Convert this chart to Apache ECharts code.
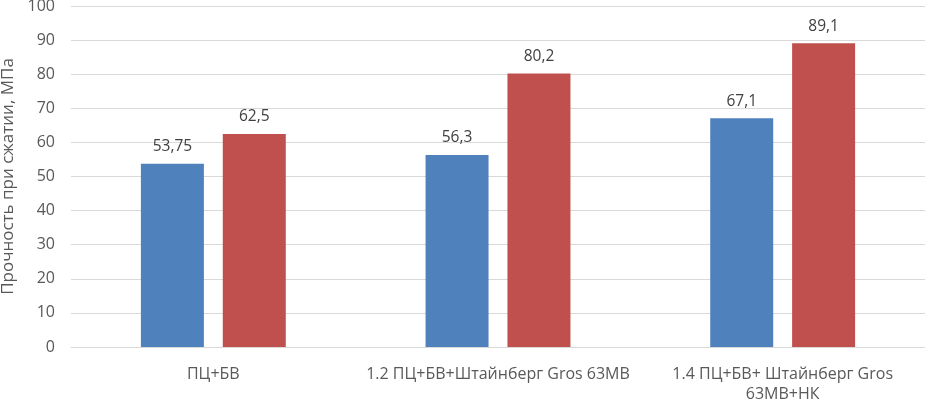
<!DOCTYPE html>
<html><head><meta charset="utf-8">
<script src="https://cdn.jsdelivr.net/npm/echarts@6/dist/echarts.min.js"></script>
<style>html,body{margin:0;padding:0;background:#fff}#c{width:925px;height:400px}</style>
</head><body><div id="c"></div>
<script>
const categories = ["ПЦ+БВ", "1.2 ПЦ+БВ+Штайнберг Gros 63МВ", "1.4 ПЦ+БВ+ Штайнберг Gros\n63МВ+НК"];
const seriesA = [53.75, 56.3, 67.1];
const seriesB = [62.5, 80.2, 89.1];
const yTitle = "Прочность при сжатии, МПа";
const font = "'Open Sans', 'Noto Sans', sans-serif";
const chart = echarts.init(document.getElementById('c'));
const lbl = {show:true, position:'top', distance:9, color:'#404040', fontSize:15.5, fontFamily:font,
  formatter: p => String(p.value).replace('.', ',')};
chart.setOption({
  animation:false,
  grid:{left:71, right:0, top:6, bottom:53, containLabel:false, outerBoundsMode:'none'},
  xAxis:{type:'category', data:categories,
    axisLine:{lineStyle:{color:'#d9d9d9'}}, axisTick:{show:false},
    axisLabel:{color:'#595959', fontSize:16, fontFamily:font, margin:17, lineHeight:20, interval:0}},
  yAxis:{type:'value', min:0, max:100, interval:10,
    name:yTitle, nameLocation:'middle', nameGap:48, nameRotate:90,
    nameTextStyle:{color:'#595959', fontSize:17, fontFamily:font},
    axisLine:{show:false}, axisTick:{show:false},
    axisLabel:{color:'#595959', fontSize:16, fontFamily:font, margin:16},
    splitLine:{lineStyle:{color:'#d9d9d9', width:1}}},
  series:[
    {type:'bar', data:seriesA, barWidth:63, barGap:'30%', itemStyle:{color:'#4F81BD'}, label:lbl},
    {type:'bar', data:seriesB, barWidth:63, barGap:'30%', itemStyle:{color:'#C0504D'}, label:lbl}
  ]
});
</script></body></html>
